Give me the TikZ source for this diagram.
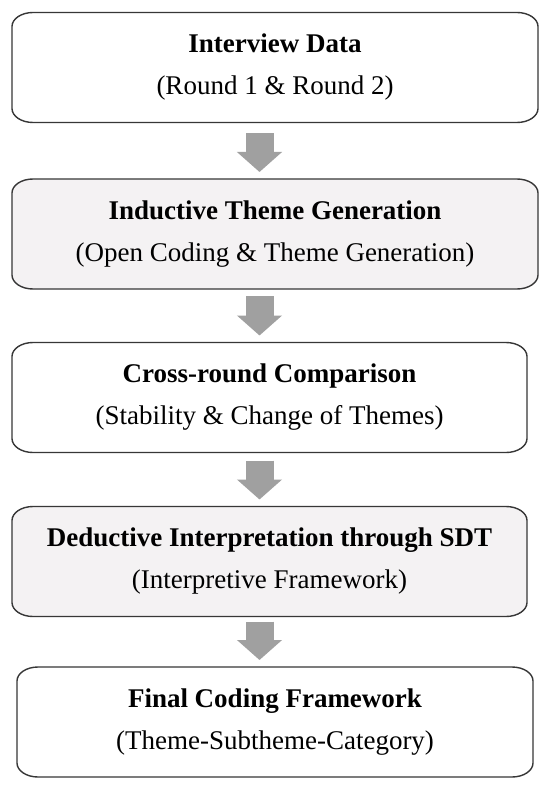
\documentclass[tikz,border=0pt]{standalone}
\usepackage{fontspec}
\setmainfont{Liberation Serif}
\usetikzlibrary{arrows.meta,backgrounds}
\definecolor{boxgray}{RGB}{244,242,243}
\definecolor{arrowgray}{RGB}{160,160,160}
\definecolor{edgegray}{RGB}{55,55,55}

\begin{document}
\begin{tikzpicture}[x=1pt,y=1pt,
                    font=\fontsize{27}{42}\selectfont]
    \tikzstyle{stage}=[rectangle,align=center,inner sep=0pt,outer sep=0pt,minimum height=110pt]
    \tikzstyle{outline}=[draw=edgegray,line width=1.4pt]
    \tikzstyle{flowarrow}=[arrowgray,line width=28pt,-{Triangle[width=44pt,length=20pt]},shorten >=7pt]

    \useasboundingbox (0,0) rectangle (550,-786);
    \coordinate (axis) at (259.5,0);

    \node[stage,minimum width=526pt] (data) at (275,-67.5) {\textbf{Interview Data}\\(Round 1 \& Round 2)};
    \node[stage,minimum width=526pt] (induct) at (275,-234) {\textbf{Inductive Theme Generation}\\(Open Coding \& Theme Generation)};
    \node[stage,minimum width=515pt] (cross) at (269.5,-397.5) {\textbf{Cross-round Comparison}\\(Stability \& Change of Themes)};
    \node[stage,minimum width=515pt] (deduct) at (269.5,-561.5) {\textbf{Deductive Interpretation through SDT}\\(Interpretive Framework)};
    \node[stage,minimum width=516pt] (final) at (275,-722) {\textbf{Final Coding Framework}\\(Theme-Subtheme-Category)};

    % rounded boxes behind the text
    \begin{pgfonlayer}{background}
        \fill[white] (0,0) rectangle (550,-786);
        \foreach \n/\c in {data/white,induct/boxgray,cross/white,deduct/boxgray,final/white}
            \filldraw[outline,fill=\c] ([xshift=21pt]\n.north west) -- ([xshift=-21pt]\n.north east)
                arc[start angle=90,end angle=0,x radius=21pt,y radius=14pt]
                -- ([yshift=14pt]\n.south east)
                arc[start angle=0,end angle=-90,x radius=21pt,y radius=14pt]
                -- ([xshift=21pt]\n.south west)
                arc[start angle=270,end angle=180,x radius=21pt,y radius=14pt]
                -- ([yshift=-14pt]\n.north west)
                arc[start angle=180,end angle=90,x radius=21pt,y radius=14pt]
                -- cycle;
    \end{pgfonlayer}

    % block arrows
    \foreach \a/\b/\s in {data/induct/11,induct/cross/7,cross/deduct/8,deduct/final/5}
        \draw[flowarrow,shorten <=\s pt] (\a.south -| axis) -- (\b.north -| axis);
\end{tikzpicture}
\end{document}
